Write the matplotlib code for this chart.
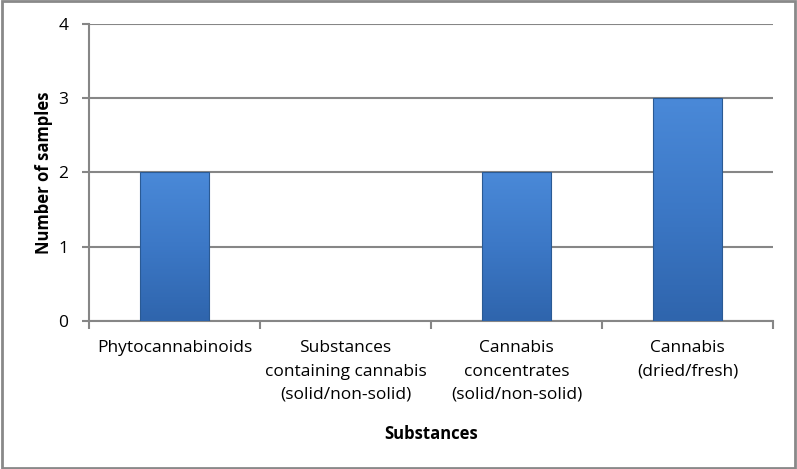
import numpy as np
import matplotlib
matplotlib.use("Agg")
import matplotlib.pyplot as plt
from matplotlib.colors import LinearSegmentedColormap
from matplotlib.patches import Rectangle

categories = ["Phytocannabinoids",
              "Substances\ncontaining cannabis\n(solid/non-solid)",
              "Cannabis\nconcentrates\n(solid/non-solid)",
              "Cannabis\n(dried/fresh)"]
samples = [2, 0, 2, 3]

plt.rcParams['font.family'] = ['Open Sans', 'DejaVu Sans']

fig = plt.figure(figsize=(7.97, 4.69), dpi=100)
ax = fig.add_axes([0.1117, 0.3156, 0.8583, 0.6332])
fig.patches.append(Rectangle((0.002, 0.003), 0.996, 0.994, transform=fig.transFigure,
                             fill=False, edgecolor='#898989', linewidth=2))

x = np.arange(len(categories))
bars = ax.bar(x, samples, width=0.4, color='#3f7ccb', edgecolor='#2a5a94',
              linewidth=0.8, zorder=3)

# vertical gradient fill for each bar
grad = LinearSegmentedColormap.from_list("g", ["#2f65ad", "#3c78c6", "#4a89d8"])
for b in bars:
    if b.get_height() <= 0:
        continue
    x0, y0, w, h = b.get_x(), b.get_y(), b.get_width(), b.get_height()
    img = np.linspace(0, 1, 100).reshape(-1, 1)
    im = ax.imshow(img, extent=[x0, x0 + w, y0, y0 + h], origin='lower', cmap=grad,
                   aspect='auto', zorder=3)
    im.set_clip_path(b)
    b.set_facecolor('none')
    b.set_zorder(4)

ax.set_xlim(-0.5, len(categories) - 0.5)
ax.set_ylim(0, 4)
ax.set_yticks([0, 1, 2, 3, 4])
ax.set_xticks(x)
ax.set_xticklabels(categories, fontsize=12.5, linespacing=1.6)
ax.set_xticks(np.arange(-0.5, len(categories), 1), minor=True)
ax.tick_params(axis='x', which='major', length=0, pad=14)
ax.tick_params(axis='x', which='minor', length=6, color='#868686', width=1.5)
ax.tick_params(axis='y', length=5, color='#868686', width=1.5, labelsize=12.5, pad=10)

ax.grid(axis='y', color='#868686', linewidth=1.5, zorder=0)
for s in ['top', 'right']:
    ax.spines[s].set_visible(False)
for s in ['left', 'bottom']:
    ax.spines[s].set_color('#868686')
    ax.spines[s].set_linewidth(1.5)

ax.set_xlabel("Substances", fontsize=12, fontweight='bold', labelpad=16)
ax.set_ylabel("Number of samples", fontsize=12, fontweight='bold', labelpad=4)

fig.savefig("out.png", dpi=100)
